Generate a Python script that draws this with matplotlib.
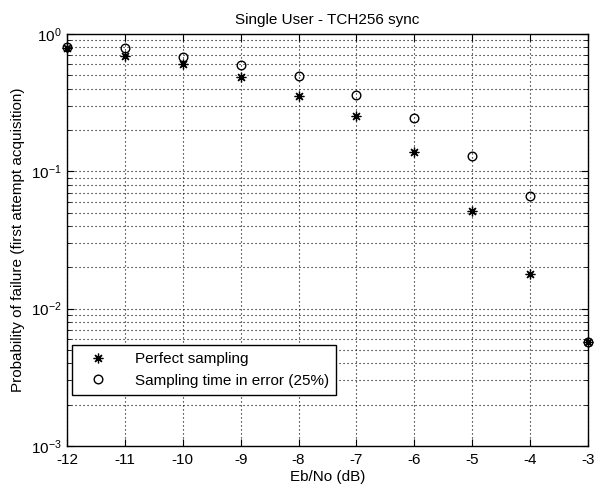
import matplotlib
matplotlib.use("Agg")
import matplotlib.pyplot as plt
from matplotlib.ticker import LogLocator, NullFormatter, FixedLocator

ebno = [-12, -11, -10, -9, -8, -7, -6, -5, -4, -3]
perfect = [0.79, 0.69, 0.60, 0.49, 0.354, 0.254, 0.139, 0.0514, 0.0179, 0.00574]
err25 = [0.81, 0.79, 0.68, 0.59, 0.494, 0.36, 0.246, 0.130, 0.066, 0.00574]
xticks = [-12, -11, -10, -9, -8, -7, -6, -5, -4, -3]

plt.rcParams['font.family'] = ['Liberation Sans', 'DejaVu Sans']
plt.rcParams['mathtext.fontset'] = 'custom'
plt.rcParams['mathtext.rm'] = 'Liberation Sans'
plt.rcParams['mathtext.it'] = 'Liberation Sans'
plt.rcParams['axes.unicode_minus'] = False

fig = plt.figure(figsize=(5.95, 4.86), dpi=100)
ax = fig.add_axes([67/595, 1-446/486, 521/595, 412/486])

ax.semilogy(ebno, perfect, linestyle='none', marker=(8, 2, 0), markersize=7,
            color='black', markeredgewidth=0.9, label='Perfect sampling', clip_on=False)
ax.semilogy(ebno, err25, linestyle='none', marker='o', markersize=6.2,
            markerfacecolor='none', markeredgecolor='black', markeredgewidth=1.0,
            label='Sampling time in error (25%)', clip_on=False)

ax.set_xlim(-12, -3)
ax.set_ylim(1e-3, 1e0)
ax.xaxis.set_major_locator(FixedLocator(xticks))
ax.yaxis.set_major_locator(LogLocator(base=10, numticks=10))
ax.yaxis.set_minor_locator(LogLocator(base=10, subs=range(2, 10), numticks=20))
ax.yaxis.set_minor_formatter(NullFormatter())

dot = (0, (1, 2.6))
ax.grid(True, which='major', axis='both', linestyle=dot, color='black', linewidth=0.8)
ax.grid(True, which='minor', axis='y', linestyle=dot, color='black', linewidth=0.8)

ax.tick_params(which='both', direction='in', top=True, right=True, labelsize=11, color='black')
ax.tick_params(which='major', length=5)
ax.tick_params(which='minor', length=3)
ax.tick_params(axis='x', which='major', pad=5)
ax.tick_params(axis='y', which='major', pad=4)
for s in ax.spines.values():
    s.set_linewidth(1.0)

ax.set_title('Single User - TCH256 sync', fontsize=11, pad=7)
ax.set_xlabel('Eb/No (dB)', fontsize=11, labelpad=2)
ax.set_ylabel('Probability of failure (first attempt acquisition)', fontsize=11, labelpad=4)

leg = ax.legend(loc='lower left', bbox_to_anchor=(0.0096, 0.125), fontsize=11,
                frameon=True, fancybox=False, edgecolor='black', framealpha=1,
                borderaxespad=0, handletextpad=1.2, borderpad=0.45, labelspacing=0.5,
                handlelength=2.5)
leg.get_frame().set_linewidth(1.0)

fig.savefig('out.png', dpi=100)
